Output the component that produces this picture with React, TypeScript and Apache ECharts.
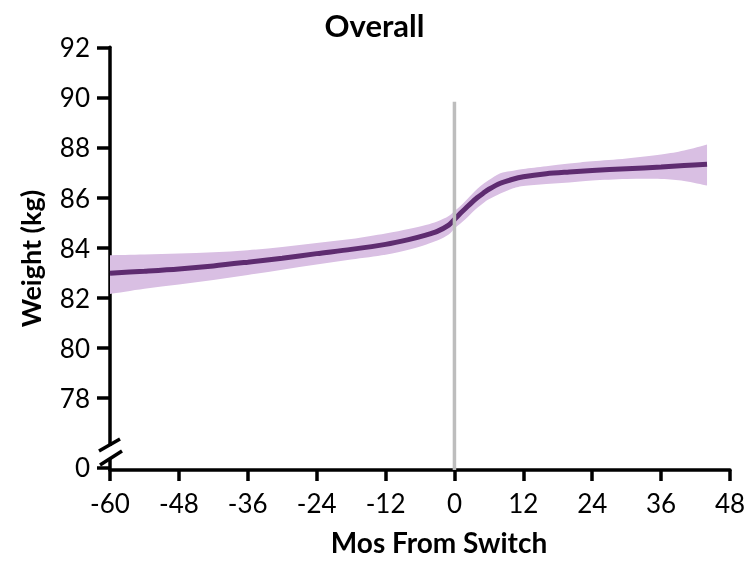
import React, { useEffect, useRef } from "react";
import * as echarts from "echarts";

// Months relative to the switch
const months = [-60, -54, -48, -42, -36, -30, -24, -18, -12, -8, -5, -3, -1, 0, 1, 2, 3, 4, 5, 6, 8, 10, 12, 16, 20, 24, 30, 36, 40, 44];
// Modelled mean weight (kg)
const weightMean = [82.98, 83.06, 83.15, 83.27, 83.42, 83.58, 83.76, 83.93, 84.13, 84.32, 84.5, 84.65, 84.9, 85.12, 85.36, 85.58, 85.8, 86.0, 86.17, 86.33, 86.57, 86.72, 86.83, 86.95, 87.02, 87.08, 87.15, 87.22, 87.28, 87.33];
// 95% confidence band
const ciUpper = [83.7, 83.73, 83.77, 83.82, 83.9, 84.03, 84.18, 84.34, 84.56, 84.74, 84.9, 85.04, 85.26, 85.46, 85.65, 85.88, 86.12, 86.35, 86.54, 86.7, 86.97, 87.06, 87.14, 87.25, 87.36, 87.45, 87.56, 87.72, 87.88, 88.12];
const ciLower = [82.15, 82.36, 82.53, 82.71, 82.91, 83.12, 83.33, 83.53, 83.72, 83.92, 84.12, 84.28, 84.52, 84.76, 84.95, 85.15, 85.38, 85.59, 85.77, 85.93, 86.16, 86.35, 86.46, 86.54, 86.6, 86.68, 86.74, 86.74, 86.66, 86.48];

// Axis settings
const xTicks = { min: -60, max: 48, interval: 12 };
const yMax = 92;
const yMin = 75.12; // bottom of the broken axis
const yZeroPos = 75.22; // where the "0" tick sits below the break
const yTickValues = [yZeroPos, 78, 80, 82, 84, 86, 88, 90, 92];
const yTickLabels = ["0", "78", "80", "82", "84", "86", "88", "90", "92"];

// Reference line at the switch
const switchMonth = 0;
const switchLineTop = 89.83;

const FONT = 'Lato, "Open Sans", "Noto Sans", sans-serif';
const PURPLE = "#5e2c70";
const BAND = "#d9bfe3";
const GREY = "#bdbdbd";

type Pt = number[];

// Catmull-Rom spline through pixel points, as cubic bezier segments
function splineSegments(pts: Pt[]): string {
  let d = "";
  for (let i = 0; i < pts.length - 1; i++) {
    const p0 = pts[Math.max(0, i - 1)];
    const p1 = pts[i];
    const p2 = pts[i + 1];
    const p3 = pts[Math.min(pts.length - 1, i + 2)];
    const c1x = p1[0] + (p2[0] - p0[0]) / 6;
    const c1y = p1[1] + (p2[1] - p0[1]) / 6;
    const c2x = p2[0] - (p3[0] - p1[0]) / 6;
    const c2y = p2[1] - (p3[1] - p1[1]) / 6;
    d += ` C ${c1x} ${c1y} ${c2x} ${c2y} ${p2[0]} ${p2[1]}`;
  }
  return d;
}

export default function App() {
  const ref = useRef<HTMLDivElement>(null);

  useEffect(() => {
    if (!ref.current) return;
    const chart = echarts.init(ref.current, undefined, { renderer: "svg" });

    const pairs = (ys: number[]) => months.map((m, i) => [m, ys[i]]);

    chart.setOption({
      animation: false,
      title: {
        text: "Overall",
        left: "center",
        top: 4,
        textStyle: { fontFamily: FONT, fontWeight: "bold", fontSize: 31, color: "#000" },
      },
      grid: { left: 110, right: 19, top: 47.3, bottom: 82.5, containLabel: false },
      xAxis: {
        type: "value",
        min: xTicks.min,
        max: xTicks.max,
        interval: xTicks.interval,
        axisLine: { show: true, onZero: false, lineStyle: { color: "#000", width: 3.5 } },
        axisTick: { show: true, length: 11, lineStyle: { color: "#000", width: 3.5 } },
        axisLabel: { color: "#000", fontFamily: FONT, fontSize: 26, margin: 20 },
        splitLine: { show: false },
        name: "Mos From Switch",
        nameLocation: "middle",
        nameGap: 58,
        nameTextStyle: { fontFamily: FONT, fontWeight: "bold", fontSize: 28, color: "#000", padding: [0, 0, 0, 38] },
      },
      yAxis: {
        type: "value",
        min: yMin,
        max: yMax,
        axisLine: { show: true, onZero: false, lineStyle: { color: "#000", width: 3.5 } },
        axisTick: { show: true, length: 13, customValues: yTickValues, lineStyle: { color: "#000", width: 3.5 } },
        axisLabel: {
          color: "#000",
          fontFamily: FONT,
          fontSize: 26,
          margin: 20,
          customValues: yTickValues,
          formatter: (v: number) => yTickLabels[yTickValues.indexOf(v)] ?? "",
        },
        splitLine: { show: false },
        name: "Weight (kg)",
        nameLocation: "middle",
        nameGap: 66,
        nameTextStyle: { fontFamily: FONT, fontWeight: "bold", fontSize: 27, color: "#000" },
      },
      series: [
        {
          // confidence band: upper edge forward, lower edge back
          type: "custom",
          data: [0],
          silent: true,
          z: 1,
          renderItem: (_params: any, api: any) => {
            const up = months.map((m, i) => api.coord([m, ciUpper[i]]));
            const lo = months.map((m, i) => api.coord([m, ciLower[i]])).reverse();
            const d =
              `M ${up[0][0]} ${up[0][1]}` +
              splineSegments(up) +
              ` L ${lo[0][0]} ${lo[0][1]}` +
              splineSegments(lo) +
              " Z";
            return { type: "path", shape: { pathData: d }, style: { fill: BAND, stroke: "none" } };
          },
        },
        {
          type: "line",
          data: pairs(weightMean),
          smooth: 0.3,
          symbol: "none",
          lineStyle: { color: PURPLE, width: 5 },
          z: 2,
        },
        {
          type: "line",
          data: [
            [switchMonth, yMin],
            [switchMonth, switchLineTop],
          ],
          symbol: "none",
          lineStyle: { color: GREY, width: 3.5 },
          z: 3,
        },
      ],
      graphic: [
        { type: "rect", shape: { x: 104, y: 446, width: 12, height: 13 }, style: { fill: "#fff" }, z: 100 },
        { type: "line", shape: { x1: 99, y1: 451, x2: 120, y2: 439 }, style: { stroke: "#000", lineWidth: 3.5 }, z: 101 },
        { type: "line", shape: { x1: 100, y1: 465, x2: 122, y2: 451 }, style: { stroke: "#000", lineWidth: 3.5 }, z: 101 },
      ],
    });

    return () => chart.dispose();
  }, []);

  return <div ref={ref} style={{ position: "fixed", left: 0, top: 0, width: 749, height: 561 }} />;
}
